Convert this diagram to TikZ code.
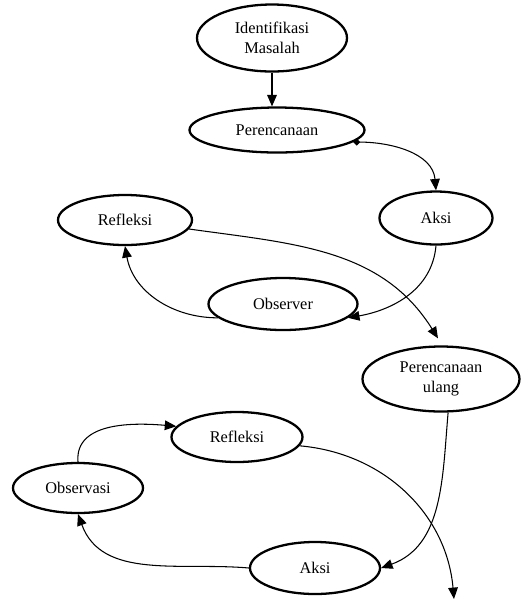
\documentclass[tikz,border=0pt]{standalone}
\usepackage{fontspec}
\setmainfont{Liberation Serif}
\usetikzlibrary{shapes.geometric,arrows.meta}
\newlength{\du}
\setlength{\du}{0.02cm}

\begin{document}
\begin{tikzpicture}[x=\du,y=-\du,
  stage/.style={draw,ellipse,line width=1.3pt,inner sep=0pt,align=center,
    font=\fontsize{9.3}{11.5}\selectfont},
  flow/.style={line width=0.6pt,-{Triangle[width=5.5pt,length=6.5pt]}}]
\useasboundingbox (0,0) rectangle (521,600);
% first cycle
\node[stage,minimum width=150\du,minimum height=67\du] (idm) at (272,38) {Identifikasi\\Masalah};
\node[stage,minimum width=175\du,minimum height=45\du] (per) at (277,130) {Perencanaan};
\node[stage,minimum width=113\du,minimum height=53\du] (aksia) at (436,218) {Aksi};
\node[stage,minimum width=134\du,minimum height=50\du] (refa) at (125,220) {Refleksi};
\node[stage,minimum width=149\du,minimum height=52\du] (obs) at (283,304) {Observer};
% second cycle
\node[stage,minimum width=157\du,minimum height=65\du] (peru) at (441,379) {Perencanaan\\ulang};
\node[stage,minimum width=131\du,minimum height=50\du] (refb) at (237,437) {Refleksi};
\node[stage,minimum width=130\du,minimum height=50\du] (obsv) at (78,488) {Observasi};
\node[stage,minimum width=130\du,minimum height=52\du] (aksib) at (315,568) {Aksi};
\coordinate (out) at (454,599);

\draw[flow] (idm.south) -- (idm.south |- per.north);
\draw[flow,{Diamond[width=4pt,length=4pt]}-{Triangle[width=5.5pt,length=6.5pt]}]
  (per.-9) to[out=0,in=95] (aksia.north);
\draw[flow] (aksia.south) to[out=-95,in=10] (obs.-12);
\draw[flow] (obs.192) to[out=180,in=-80] (refa.south);
\draw[flow] (refa.-8) to[out=-8,in=122] ([xshift=-3\du,yshift=7\du]peru.north);
\draw[flow] (peru.-78) to[out=-95,in=20] (aksib.east);
\draw[flow] (aksib.west) to[out=175,in=-70] (obsv.south);
\draw[flow] (obsv.north) to[out=95,in=175] (refb.170);
\draw[flow] (refb.-8) to[out=-5,in=95] (out);
\end{tikzpicture}
\end{document}
